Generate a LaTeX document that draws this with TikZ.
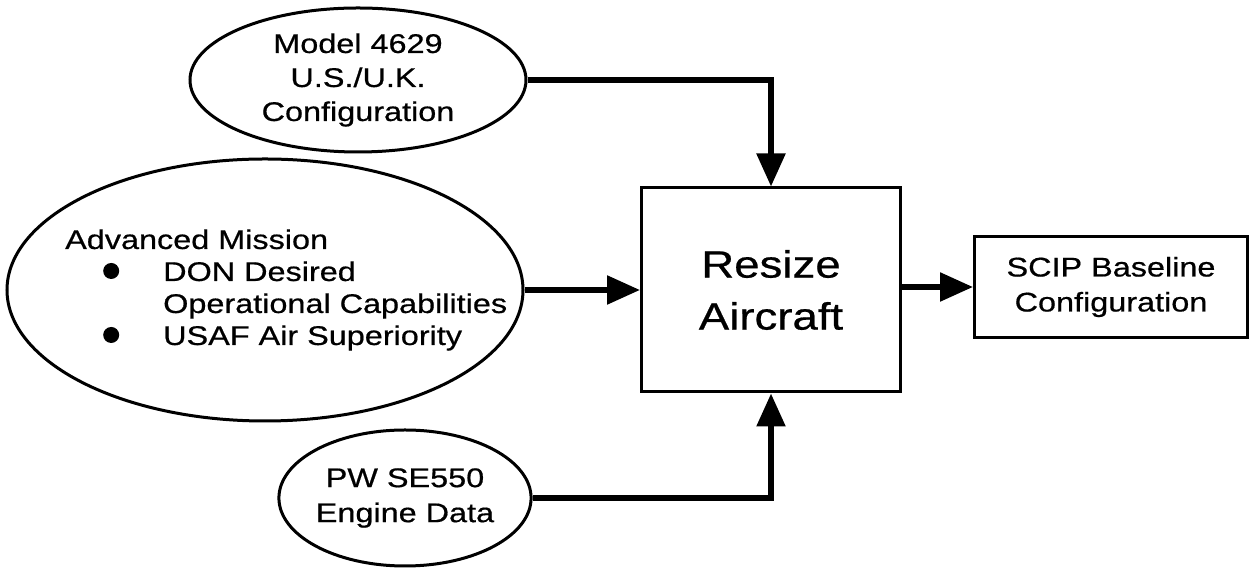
\documentclass[tikz,border=0pt]{standalone}
\usepackage{fontspec}
\setmainfont{Liberation Sans}[FakeStretch=1.2,FakeBold=0.6]
\usepackage{tikz}
\usetikzlibrary{arrows.meta,shapes.geometric}
\newcommand{\bigdot}{\tikz[baseline={(0,-10pt)}]\fill (0,0) circle (8pt);}

\begin{document}
\begin{tikzpicture}[x=1pt,y=1pt,
  oval/.style={draw,ellipse,line width=3pt,inner sep=0pt,align=center,font=\fontsize{27}{34}\selectfont},
  block/.style={draw,rectangle,line width=3pt,inner sep=0pt,align=center},
  feed/.style={line width=5.5pt,-{Triangle[length=33pt,width=28pt]}}]
  \useasboundingbox (0,0) rectangle (1250,569);
  \node[oval,minimum width=336pt,minimum height=144pt] (model) at (358,489) {Model 4629\\U.S./U.K.\\Configuration};
  \node[oval,minimum width=516pt,minimum height=262pt] (mission) at (265,279) {};
  \node[anchor=west,inner sep=0pt,align=left,font=\fontsize{27}{32}\selectfont] (missiontext) at (65,279)
    {Advanced Mission\\ \hspace*{38pt}\makebox[60pt][l]{\bigdot}DON Desired\\
     \hspace*{98pt}Operational Capabilities\\ \hspace*{38pt}\makebox[60pt][l]{\bigdot}USAF Air Superiority};
  \node[oval,minimum width=246pt,minimum height=136pt,font=\fontsize{27}{35}\selectfont] (engine) at (405,71) {PW SE550\\Engine Data};
  \node[block,minimum width=259pt,minimum height=204pt,font=\fontsize{38}{52}\selectfont] (resize) at (771,279) {Resize\\Aircraft};
  \node[block,minimum width=273pt,minimum height=101pt,font=\fontsize{27}{35}\selectfont] (scip) at (1111,282) {SCIP Baseline\\Configuration};
  \draw[feed] (model.east) -| (resize.north);
  \draw[feed] (mission.east) -- (resize.west);
  \draw[feed] (resize.east |- scip.west) -- (scip.west);
  \draw[feed] (engine.east) -| (resize.south);
\end{tikzpicture}
\end{document}
